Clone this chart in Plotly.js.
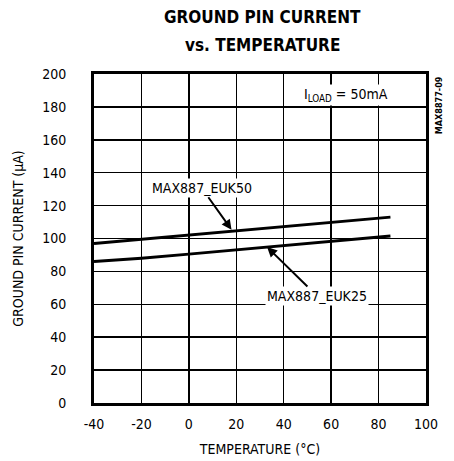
<!DOCTYPE html>
<html>
<head>
<meta charset="utf-8">
<script src="https://cdn.plot.ly/plotly-3.0.1.min.js"></script>
<style>html,body{margin:0;padding:0;background:#fff;}#chart{width:454px;height:461px;}</style>
</head>
<body>
<div id="chart"></div>
<script>
var temperature = [-40, -20, 0, 20, 40, 60, 85];
var euk50 = [97, 99.5, 102, 104.5, 107, 109.5, 113];
var euk25 = [86, 88, 90.5, 93, 95.5, 98, 101.5];
var xTicks = [-40, -20, 0, 20, 40, 60, 80, 100];
var yTicks = [0, 20, 40, 60, 80, 100, 120, 140, 160, 180, 200];
var seriesNames = ["MAX887_EUK50", "MAX887_EUK25"];

var F = "DejaVu Sans Condensed, Liberation Sans Narrow, Arial Narrow, sans-serif";

var traces = [
  {x: temperature, y: euk50, mode: "lines", name: seriesNames[0], line: {color: "#000", width: 3}},
  {x: temperature, y: euk25, mode: "lines", name: seriesNames[1], line: {color: "#000", width: 3}}
];

var layout = {
  width: 454, height: 461,
  margin: {l: 94, r: 28, t: 74, b: 58},
  paper_bgcolor: "#fff", plot_bgcolor: "#fff",
  showlegend: false,
  font: {family: F, color: "#000", size: 13},
  xaxis: {range: [-40, 100], tickvals: xTicks, ticktext: xTicks.map(String), ticks: "",
          showgrid: true, gridcolor: "#000", gridwidth: 1.5, zeroline: false,
          showline: true, linecolor: "#000", linewidth: 3, mirror: true,
          tickfont: {family: F, size: 14}, ticklabelstandoff: 6,
          title: {text: "TEMPERATURE (°C)", font: {family: F, size: 14}, standoff: 14}},
  yaxis: {range: [0, 200], tickvals: yTicks, ticktext: yTicks.map(String), ticks: "",
          showgrid: true, gridcolor: "#000", gridwidth: 1.5, zeroline: false,
          showline: true, linecolor: "#000", linewidth: 3, mirror: true,
          tickfont: {family: F, size: 14}, ticklabelstandoff: 22,
          title: {text: "GROUND PIN CURRENT (µA)", font: {family: F, size: 14}, standoff: 16}},
  annotations: [
    {x: 0.508, xref: "paper", y: 1.173, yref: "paper", text: "<b>GROUND PIN CURRENT</b>", showarrow: false,
     xanchor: "center", yanchor: "middle", font: {family: F, size: 17}},
    {x: 0.508, xref: "paper", y: 1.088, yref: "paper", text: "<b>vs. TEMPERATURE</b>", showarrow: false,
     xanchor: "center", yanchor: "middle", font: {family: F, size: 17}},
    {x: 85, xref: "x", y: 187, yref: "y", text: "I<sub>LOAD</sub> = 50mA", showarrow: false,
     xanchor: "right", yanchor: "middle", font: {family: F, size: 14}, bgcolor: "#fff", borderpad: 1},
    {x: 1.04, xref: "paper", y: 1.0, yref: "paper", text: "<b>MAX8877-09</b>", showarrow: false,
     textangle: -90, xanchor: "center", yanchor: "top", font: {family: F, size: 9}},
    {x: 18, y: 105.3, xref: "x", yref: "y", text: "MAX887_EUK50", showarrow: true,
     arrowhead: 2, arrowsize: 1, arrowwidth: 2, arrowcolor: "#000", ax: -30, ay: -42,
     font: {family: F, size: 14}, bgcolor: "#fff", borderpad: 1},
    {x: 33, y: 94.8, xref: "x", yref: "y", text: "MAX887_EUK25", showarrow: true,
     arrowhead: 2, arrowsize: 1, arrowwidth: 2, arrowcolor: "#000", ax: 50, ay: 49,
     font: {family: F, size: 14}, bgcolor: "#fff", borderpad: 1}
  ]
};

Plotly.newPlot("chart", traces, layout, {displayModeBar: false, staticPlot: true});
</script>
</body>
</html>
